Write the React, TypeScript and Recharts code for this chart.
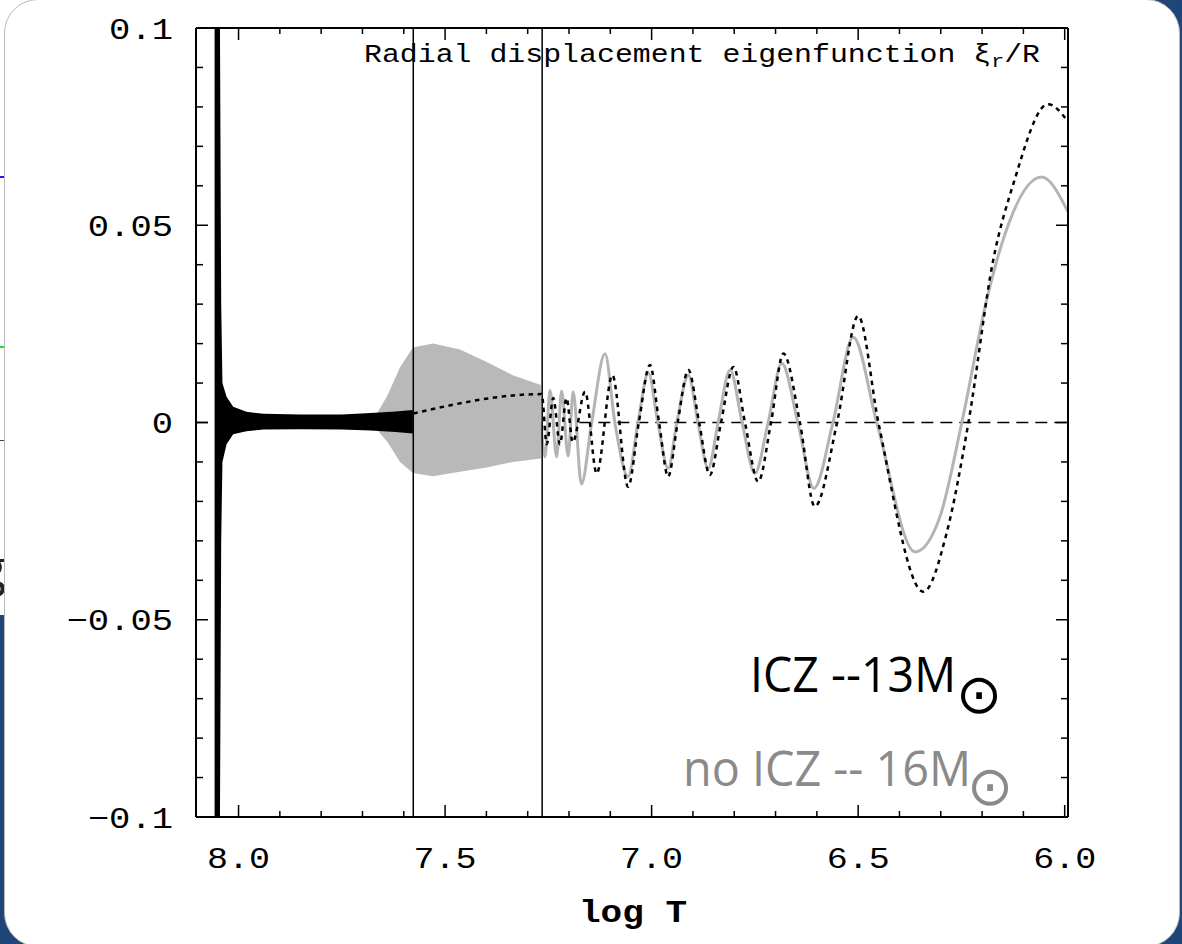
import React from 'react';
import { ComposedChart, Line, Area, XAxis, YAxis, ReferenceLine } from 'recharts';

// axis ticks (log T every 0.1, xi every 0.01); empty label = minor tick
const xTicks = [8.0, 7.9, 7.8, 7.7, 7.6, 7.5, 7.4, 7.3, 7.2, 7.1, 7.0, 6.9, 6.8, 6.7, 6.6, 6.5, 6.4, 6.3, 6.2, 6.1, 6.0];
const xTickLabels = ['8.0', '', '', '', '', '7.5', '', '', '', '', '7.0', '', '', '', '', '6.5', '', '', '', '', '6.0'];
const yTicks = [0.1, 0.09, 0.08, 0.07, 0.06, 0.05, 0.04, 0.03, 0.02, 0.01, 0, -0.01, -0.02, -0.03, -0.04, -0.05, -0.06, -0.07, -0.08, -0.09, -0.1];
const yTickLabels = ['0.1', '', '', '', '', '0.05', '', '', '', '', '0', '', '', '', '', '\u22120.05', '', '', '', '', '\u22120.1'];

// boundaries marked by the two vertical lines
const boundaries = [7.577, 7.265];

// ICZ 13 Msun: core spike + fast oscillation envelope
const blackBandLogT = [8.058, 8.045, 8.042, 8.039, 8.029, 8.013, 7.981, 7.94, 7.85, 7.75, 7.68, 7.62, 7.578];
const blackBandLow = [-0.1, -0.1, -0.03, -0.01, -0.0055, -0.003, -0.0022, -0.0018, -0.0017, -0.0018, -0.002, -0.0024, -0.0028];
const blackBandHigh = [0.1, 0.1, 0.03, 0.01, 0.0065, 0.004, 0.0027, 0.0022, 0.002, 0.002, 0.0024, 0.0028, 0.0032];

// ICZ 13 Msun: resolved eigenfunction
const blackLineLogT = [7.577, 7.266, 7.254, 7.238, 7.222, 7.206, 7.191, 7.161, 7.133, 7.095, 7.057, 7.031, 7.004, 6.982, 6.96, 6.937, 6.911, 6.885, 6.859, 6.832, 6.802, 6.774, 6.742, 6.711, 6.681, 6.641, 6.605, 6.551, 6.5, 6.451, 6.342, 6.286, 6.233, 6.173, 6.124, 6.04, 5.995];
const blackLineXi = [0.0023, 0.0072, -0.0055, 0.0062, -0.0055, 0.0062, -0.005, 0.0078, -0.0129, 0.012, -0.0163, 0, 0.0146, 0, -0.0137, 0, 0.0133, 0, -0.0133, 0, 0.0141, 0, -0.015, 0, 0.0175, 0, -0.0213, 0, 0.027, 0, -0.0429, -0.0281, 0, 0.0412, 0.0606, 0.0807, 0.0767];

// no ICZ 16 Msun: fast oscillation envelope
const grayBandLogT = [7.665, 7.639, 7.609, 7.578, 7.529, 7.464, 7.403, 7.336, 7.268];
const grayBandLow = [-0.0018, -0.005, -0.01, -0.0128, -0.0136, -0.0125, -0.0115, -0.01, -0.0091];
const grayBandHigh = [0.0022, 0.007, 0.014, 0.019, 0.02, 0.0185, 0.0155, 0.012, 0.0095];

// no ICZ 16 Msun: resolved eigenfunction
const grayLineLogT = [7.268, 7.258, 7.246, 7.23, 7.218, 7.202, 7.19, 7.17, 7.145, 7.113, 7.089, 7.057, 7.033, 7.008, 6.985, 6.96, 6.939, 6.911, 6.888, 6.863, 6.839, 6.81, 6.781, 6.75, 6.718, 6.685, 6.646, 6.607, 6.561, 6.512, 6.455, 6.362, 6.302, 6.249, 6.189, 6.157, 6.056, 5.992];
const grayLineXi = [0, -0.0087, 0.0082, -0.0087, 0.008, -0.0085, 0.0078, -0.0156, 0, 0.0174, 0, -0.0137, 0, 0.0126, 0, -0.0116, 0, 0.012, 0, -0.0116, 0, 0.0133, 0, -0.0129, 0, 0.015, 0, -0.0167, 0, 0.0216, 0, -0.0328, -0.0239, 0, 0.031, 0.0437, 0.0622, 0.0534];

const X_DOMAIN = [5.992, 8.103];
const MONO = "'Liberation Mono', 'DejaVu Sans Mono', monospace";

const blackBand = blackBandLogT.map((t, i) => ({ logT: t, range: [blackBandLow[i], blackBandHigh[i]] }));
const grayBand = grayBandLogT.map((t, i) => ({ logT: t, range: [grayBandLow[i], grayBandHigh[i]] }));
const blackLine = blackLineLogT.map((t, i) => ({ logT: t, xi: blackLineXi[i] }));
const grayLine = grayLineLogT.map((t, i) => ({ logT: t, xi: grayLineXi[i] }));

const findLabel = (ticks: number[], labels: string[], v: number) => {
    const i = ticks.findIndex((t) => Math.abs(t - v) < 1e-6);
    return i >= 0 ? labels[i] : '';
};

// gnuplot-style ticks: drawn inward from the border
function XTick(props: any) {
    const { x, y, payload, side } = props;
    const label = findLabel(xTicks, xTickLabels, payload.value);
    const len = label ? 12 : 6;
    const dir = side === 'top' ? 1 : -1;
    return (
        <g>
            <line x1={x} y1={y} x2={x} y2={y + dir * len} stroke="#000" strokeWidth={1.5} />
            {side === 'bottom' && label && (
                <text x={x} y={y + 51} textAnchor="middle" fontFamily={MONO} fontSize={30}
                    textLength={label.length * 21} lengthAdjust="spacingAndGlyphs" fill="#000">{label}</text>
            )}
        </g>
    );
}

function YTick(props: any) {
    const { x, y, payload, side } = props;
    const label = findLabel(yTicks, yTickLabels, payload.value);
    const len = label ? 12 : 7;
    const dir = side === 'left' ? 1 : -1;
    return (
        <g>
            <line x1={x} y1={y} x2={x + dir * len} y2={y} stroke="#000" strokeWidth={1.5} />
            {side === 'left' && label && (
                <text x={x - 23} y={y + 10.5} textAnchor="end" fontFamily={MONO} fontSize={30}
                    textLength={label.length * 21.3} lengthAdjust="spacingAndGlyphs" fill="#000">{label}</text>
            )}
        </g>
    );
}

export default function App() {
    const axisLine = { stroke: '#000', strokeWidth: 2 };

    return (
        <div style={{ position: 'absolute', left: 0, top: 0, width: 1182, height: 944, background: '#1f4579', overflow: 'hidden' }}>
            {/* slide behind the panel, only its edge shows */}
            <div style={{ position: 'absolute', left: 0, top: 0, width: 60, height: 615, background: '#fff' }} />
            <div style={{ position: 'absolute', left: 0, top: 176, width: 5, height: 2, background: '#1a1aff' }} />
            <div style={{ position: 'absolute', left: 0, top: 346, width: 5, height: 2, background: '#22dd22' }} />
            <div style={{ position: 'absolute', left: 0, top: 440, width: 5, height: 1, background: '#444' }} />
            <div style={{ position: 'absolute', left: 0, top: 530, width: 4, height: 70, overflow: 'hidden' }}>
                <span style={{ position: 'absolute', left: -22, top: 0, fontFamily: "'Open Sans', sans-serif", fontSize: 52, color: '#222' }}>g</span>
            </div>

            {/* white panel */}
            <div style={{ position: 'absolute', left: 4, top: -1, width: 1174, height: 946, background: '#fff', border: '1px solid #b8b8b8', borderRadius: 34 }} />

            <div style={{ position: 'absolute', left: 0, top: 0 }}>
                <ComposedChart width={1182} height={944} margin={{ top: 27, right: 113, bottom: 86, left: 156 }}>
                    <XAxis xAxisId={0} dataKey="logT" type="number" domain={X_DOMAIN} reversed allowDataOverflow
                        ticks={xTicks} interval={0} height={41} tickSize={0} tickMargin={0} axisLine={axisLine}
                        tick={(p: any) => <XTick {...p} side="bottom" />} />
                    <XAxis xAxisId="top" orientation="top" dataKey="logT" type="number" domain={X_DOMAIN} reversed allowDataOverflow
                        ticks={xTicks} interval={0} height={1} tickSize={0} tickMargin={0} axisLine={axisLine}
                        tick={(p: any) => <XTick {...p} side="top" />} />
                    <YAxis yAxisId={0} type="number" domain={[-0.1, 0.1]} allowDataOverflow
                        ticks={yTicks} interval={0} width={40} tickSize={0} tickMargin={0} axisLine={axisLine}
                        tick={(p: any) => <YTick {...p} side="left" />} />
                    <YAxis yAxisId="right" orientation="right" type="number" domain={[-0.1, 0.1]} allowDataOverflow
                        ticks={yTicks} interval={0} width={1} tickSize={0} tickMargin={0} axisLine={axisLine}
                        tick={(p: any) => <YTick {...p} side="right" />} />

                    {/* dashed zero axis, visible outside the oscillation envelopes */}
                    <ReferenceLine segment={[{ x: 8.103, y: 0 }, { x: 8.057, y: 0 }]} stroke="#000" strokeWidth={1.5} strokeDasharray="12 7" />
                    <ReferenceLine segment={[{ x: 7.175, y: 0 }, { x: 5.992, y: 0 }]} stroke="#000" strokeWidth={1.5} strokeDasharray="12 7" />

                    <Area data={grayBand} dataKey="range" type="linear" stroke="none" fill="#b9b9b9" fillOpacity={1} isAnimationActive={false} dot={false} activeDot={false} />
                    <Line data={grayLine} dataKey="xi" type="monotone" stroke="#b4b4b4" strokeWidth={3} dot={false} activeDot={false} isAnimationActive={false} />
                    <Area data={blackBand} dataKey="range" type="linear" stroke="none" fill="#000" fillOpacity={1} isAnimationActive={false} dot={false} activeDot={false} />
                    <Line data={blackLine} dataKey="xi" type="monotone" stroke="#000" strokeWidth={2.5} strokeDasharray="4.5 4.5" dot={false} activeDot={false} isAnimationActive={false} />

                    {boundaries.map((b) => (
                        <ReferenceLine key={b} x={b} stroke="#000" strokeWidth={1.5} />
                    ))}
                </ComposedChart>
            </div>

            {/* titles and legend */}
            <svg width={1182} height={944} style={{ position: 'absolute', left: 0, top: 0, pointerEvents: 'none' }}>
                <text x={364} y={62} fontFamily={MONO} fontSize={25} textLength={676} lengthAdjust="spacingAndGlyphs" fill="#000">
                    Radial displacement eigenfunction {'\u03be'}<tspan fontSize={18} dy={5}>r</tspan><tspan dy={-5}>/R</tspan>
                </text>
                <text x={633} y={922} textAnchor="middle" fontFamily={MONO} fontWeight="bold" fontSize={31}
                    textLength={108} lengthAdjust="spacingAndGlyphs" fill="#000">log T</text>

                <text x={750} y={692} fontFamily="'Open Sans', sans-serif" fontSize={49} textLength={206} lengthAdjust="spacingAndGlyphs" fill="#000">ICZ --13M</text>
                <text x={956} y={713} fontFamily="'DejaVu Sans', sans-serif" fontSize={55} fill="#000">{'\u2299'}</text>
                <text x={683} y={786} fontFamily="'Open Sans', sans-serif" fontSize={49} textLength={288} lengthAdjust="spacingAndGlyphs" fill="#8a8a8a">no ICZ -- 16M</text>
                <text x={967} y={805} fontFamily="'DejaVu Sans', sans-serif" fontSize={55} fill="#8a8a8a">{'\u2299'}</text>
            </svg>
        </div>
    );
}
